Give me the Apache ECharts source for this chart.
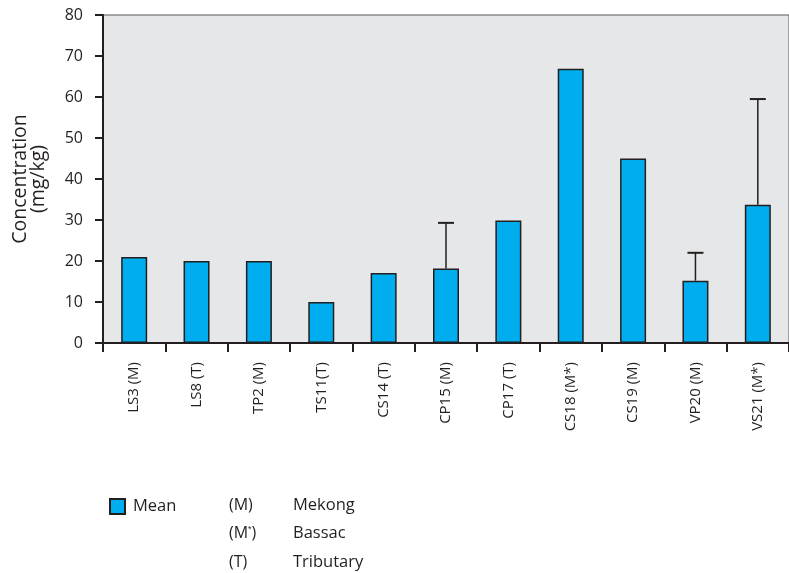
<!DOCTYPE html>
<html><head><meta charset="utf-8">
<script src="https://cdn.jsdelivr.net/npm/echarts@6/dist/echarts.min.js"></script>
<style>html,body{margin:0;padding:0;background:#fff}#c{width:789px;height:573px}</style>
</head><body><div id="c"></div>
<script>
var categories = ['LS3 (M)','LS8 (T)','TP2 (M)','TS11(T)','CS14 (T)','CP15 (M)','CP17 (T)','CS18 (M*)','CS19 (M)','VP20 (M)','VS21 (M*)'];
var meanValues = [21, 20, 20, 10, 17.1, 18.2, 29.9, 66.9, 45, 15.2, 33.7];
var errorTops  = [null, null, null, null, null, 29.3, null, null, null, 22, 59.5];
var yTicks = [0, 10, 20, 30, 40, 50, 60, 70, 80];
var legendKeys = ['(M)', '(M*)', '(T)'];
var legendNames = ['Mekong', 'Bassac', 'Tributary'];

var FONT = '"Open Sans", "Noto Sans", sans-serif';
var DARK = '#231f20';
var chart = echarts.init(document.getElementById('c'));

var errData = [];
categories.forEach(function (c, i) {
  if (errorTops[i] != null) errData.push([i, meanValues[i], errorTops[i]]);
});

var graphics = [];
legendKeys.forEach(function (k, i) {
  var y = 505 + i * 28.5;
  graphics.push({ type: 'text', x: 229, y: y, style: { text: k === '(M*)' ? '(M{s|*})' : k, font: '16px ' + FONT, fill: DARK, verticalAlign: 'middle', rich: { s: { fontSize: 9, verticalAlign: 'top', fill: DARK, padding: [0,0,7,0] } } } });
  graphics.push({ type: 'text', x: 293, y: y, style: { text: legendNames[i], font: '16.5px ' + FONT, fill: DARK, verticalAlign: 'middle' } });
});

chart.setOption({
  animation: false,
  textStyle: { fontFamily: FONT },
  grid: { left: 103, top: 15, bottom: 230, width: 693, show: true, backgroundColor: '#e6e7e8', borderColor: '#58595b', borderWidth: 1 },
  legend: {
    data: ['Mean'], left: 104, top: 493, itemWidth: 15, itemHeight: 15, itemGap: 5,
    icon: 'rect',
    textStyle: { fontSize: 16.5, color: DARK, fontFamily: FONT, padding: [12, 0, 0, 3] }
  },
  graphic: graphics,
  xAxis: {
    type: 'category', data: categories,
    axisLine: { lineStyle: { color: DARK, width: 2 } },
    axisTick: { show: true, length: 9, lineStyle: { color: DARK, width: 2 } },
    axisLabel: { rotate: 90, margin: 19, fontSize: 15, color: DARK, fontFamily: FONT }
  },
  yAxis: {
    type: 'value', min: yTicks[0], max: yTicks[yTicks.length - 1], interval: 10,
    name: 'Concentration\n(mg/kg)', nameLocation: 'middle', nameGap: 56,
    nameTextStyle: { fontSize: 19.5, lineHeight: 18, color: DARK, fontFamily: FONT },
    axisLine: { show: true, lineStyle: { color: DARK, width: 2 } },
    axisTick: { show: true, length: 8, lineStyle: { color: DARK, width: 2 } },
    axisLabel: { fontSize: 16, color: DARK, margin: 20, fontFamily: FONT },
    splitLine: { show: false }
  },
  series: [
    {
      name: 'Mean', type: 'bar', data: meanValues, barWidth: 26,
      itemStyle: { color: '#00aeef', borderColor: DARK, borderWidth: 1.5 },
      z: 2
    },
    {
      type: 'custom', data: errData, z: 3,
      renderItem: function (params, api) {
        var lo = api.coord([api.value(0), api.value(1)]);
        var hi = api.coord([api.value(0), api.value(2)]);
        var w = 8;
        return {
          type: 'group',
          children: [
            { type: 'line', shape: { x1: hi[0], y1: lo[1], x2: hi[0], y2: hi[1] }, style: { stroke: DARK, lineWidth: 1.5 } },
            { type: 'line', shape: { x1: hi[0] - w, y1: hi[1], x2: hi[0] + w, y2: hi[1] }, style: { stroke: DARK, lineWidth: 2 } }
          ]
        };
      }
    }
  ]
});
</script>
</body></html>
